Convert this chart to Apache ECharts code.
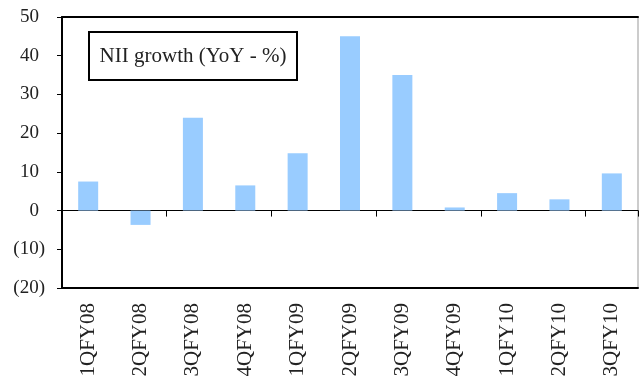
<!DOCTYPE html>
<html>
<head>
<meta charset="utf-8">
<script src="https://cdn.jsdelivr.net/npm/echarts@6/dist/echarts.min.js"></script>
<style>
  html, body { margin: 0; padding: 0; background: #fff; }
  #chart { width: 639px; height: 385px; }
</style>
</head>
<body>
<div id="chart"></div>
<script>
// Quarterly net interest income growth, year on year (%)
const quarters = ['1QFY08', '2QFY08', '3QFY08', '4QFY08', '1QFY09', '2QFY09',
                  '3QFY09', '4QFY09', '1QFY10', '2QFY10', '3QFY10'];
const niiGrowth = [7.5, -3.7, 24.0, 6.5, 14.8, 45.0, 35.0, 0.8, 4.5, 2.9, 9.6];
const boxTitle = 'NII growth (YoY - %)';

const serif = '"Liberation Serif", "DejaVu Serif", serif';
const textColor = '#222';

const chart = echarts.init(document.getElementById('chart'), null, { renderer: 'canvas' });

chart.setOption({
  animation: false,
  backgroundColor: '#fff',
  grid: {
    left: 62, right: 1, top: 17, bottom: 97,
    show: true, borderColor: '#999', borderWidth: 1, backgroundColor: 'transparent'
  },
  xAxis: [
    {
      // category labels along the bottom edge
      type: 'category', data: quarters, position: 'bottom',
      axisLine: { onZero: false, lineStyle: { color: '#000', width: 2 } },
      axisTick: { show: false },
      axisLabel: {
        interval: 0, rotate: 90, margin: 15,
        fontFamily: serif, fontSize: 21, color: textColor
      },
      splitLine: { show: false }
    },
    {
      // zero line with boundary ticks
      type: 'category', data: quarters, position: 'bottom',
      axisLine: { onZero: true, lineStyle: { color: '#000', width: 1 } },
      axisTick: { show: true, length: 6, lineStyle: { color: '#000', width: 1 } },
      axisLabel: { show: false },
      splitLine: { show: false }
    },
    {
      // top frame
      type: 'category', data: quarters, position: 'top',
      axisLine: { onZero: false, lineStyle: { color: '#000', width: 2 } },
      axisTick: { show: false },
      axisLabel: { show: false },
      splitLine: { show: false }
    }
  ],
  yAxis: {
    type: 'value', min: -20, max: 50, interval: 10,
    axisLine: { show: true, onZero: false, lineStyle: { color: '#000', width: 2 } },
    axisTick: { show: true, length: 5, lineStyle: { color: '#000', width: 1 } },
    splitLine: { show: false },
    axisLabel: {
      margin: 17, fontFamily: serif, fontSize: 19, color: textColor,
      formatter: v => v < 0 ? '(' + (-v) + ')' : '{p|' + v + '}',
      rich: {
        p: { padding: [0, 6, 0, 0], fontFamily: serif, fontSize: 19, color: textColor }
      }
    }
  },
  series: [{
    type: 'bar',
    xAxisIndex: 0,
    data: niiGrowth,
    barWidth: 20,
    itemStyle: { color: '#99CCFF' }
  }],
  graphic: [{
    type: 'group',
    left: 88, top: 31,
    children: [
      {
        type: 'rect',
        shape: { x: 0, y: 0, width: 208, height: 48 },
        style: { fill: '#fff', stroke: '#000', lineWidth: 2 }
      },
      {
        type: 'text',
        x: 104, y: 24,
        style: {
          text: boxTitle, fontFamily: serif, fontSize: 21, fill: textColor,
          align: 'center', verticalAlign: 'middle'
        }
      }
    ]
  }]
});
</script>
</body>
</html>
